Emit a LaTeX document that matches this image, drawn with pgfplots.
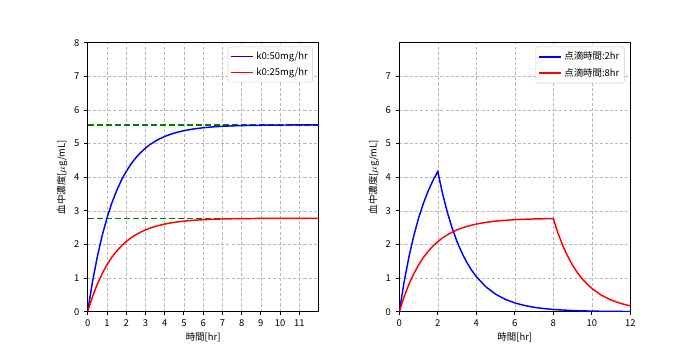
\documentclass[border=0pt]{standalone}
\usepackage{pgfplots}
\pgfplotsset{compat=1.18}
\usepackage{fontspec}
\setmainfont{Noto Sans CJK JP}
\definecolor{mplgreen}{RGB}{0,128,0}
\newcommand{\fs}{\fontsize{6.8pt}{8pt}\selectfont}
\pgfplotsset{mystyle/.style={
  scale only axis, width=166.3pt, height=193.7pt,
  xmin=0, xmax=12, ymin=0, ymax=8,
  grid=major, major grid style={dash pattern=on 2.2pt off 1.5pt, black!28, line width=0.4pt},
  tick align=outside, major tick length=2.5pt,
  xtick pos=lower, ytick pos=left,
  tick style={black, line width=0.55pt},
  axis line style={line width=0.55pt},
  /pgf/number format/assume math mode=true,
  ticklabel style={font=\fs},
  label style={font=\fs},
  xlabel={時間[hr]}, ylabel={血中濃度[$\mu$g/mL]},
  xlabel style={yshift=3pt}, ylabel style={yshift=-2pt},
  legend style={at={(0.975,0.985)}, anchor=north east, draw=black!18, rounded corners=1.5pt,
    font=\fs, inner sep=1.5pt, row sep=0.5pt},
  legend cell align=left,
  legend image code/.code={\draw[#1,mark=none] plot coordinates {(0pt,0pt) (16pt,0pt)};},
}}
\begin{document}
\begin{tikzpicture}
\path[use as bounding box] (0,0) rectangle (504pt,252pt);
\begin{axis}[mystyle, at={(63.1pt,27.6pt)}, anchor=south west,
  xtick={0,1,2,3,4,5,6,7,8,9,10,11}, ytick={0,1,2,3,4,5,6,7,8}]
\addplot[mplgreen, dash pattern=on 4.5pt off 2pt, line width=1.05pt, forget plot] coordinates {(0,5.556) (12,5.556)};
\addplot[mplgreen, dash pattern=on 4.5pt off 2pt, line width=1.05pt, forget plot] coordinates {(0,2.778) (12,2.778)};
\addplot[blue, line width=1.05pt] coordinates {
(0,0) (0.25,0.884) (0.5,1.627) (0.75,2.252) (1,2.778) (1.25,3.220) (1.5,3.591) (1.75,3.904)
(2,4.167) (2.25,4.388) (2.5,4.574) (2.75,4.730) (3,4.861) (3.25,4.972) (3.5,5.065) (3.75,5.143)
(4,5.208) (4.25,5.264) (4.5,5.310) (4.75,5.349) (5,5.382) (5.5,5.433) (6,5.469) (6.5,5.495)
(7,5.513) (7.5,5.525) (8,5.534) (9,5.545) (10,5.550) (11,5.553) (12,5.555)};
\addlegendentry{k0:50mg/hr}
\addplot[red, line width=1.05pt] coordinates {
(0,0) (0.25,0.442) (0.5,0.814) (0.75,1.126) (1,1.389) (1.25,1.610) (1.5,1.796) (1.75,1.952)
(2,2.083) (2.25,2.194) (2.5,2.287) (2.75,2.365) (3,2.431) (3.25,2.486) (3.5,2.533) (3.75,2.572)
(4,2.604) (4.25,2.632) (4.5,2.655) (4.75,2.675) (5,2.691) (5.5,2.717) (6,2.735) (6.5,2.748)
(7,2.757) (7.5,2.763) (8,2.767) (9,2.773) (10,2.775) (11,2.777) (12,2.778)};
\addlegendentry{k0:25mg/hr}
\end{axis}
\begin{axis}[mystyle, at={(287.5pt,27.6pt)}, anchor=south west,
  xtick={0,2,4,6,8,10,12}, ytick={0,1,2,3,4,5,6,7}]
\addplot[blue, line width=1.05pt] coordinates {
(0,0) (0.25,0.884) (0.5,1.627) (0.75,2.252) (1,2.778) (1.25,3.220) (1.5,3.591) (1.75,3.904)
(2,4.167) (2.25,3.504) (2.5,2.946) (2.75,2.478) (3,2.083) (3.25,1.752) (3.5,1.473) (3.75,1.239)
(4,1.042) (4.5,0.737) (5,0.521) (5.5,0.368) (6,0.260) (6.5,0.184) (7,0.130) (7.5,0.092)
(8,0.065) (9,0.033) (10,0.016) (11,0.008) (12,0.004)};
\addlegendentry{点滴時間:2hr}
\addplot[red, line width=1.05pt] coordinates {
(0,0) (0.25,0.442) (0.5,0.814) (0.75,1.126) (1,1.389) (1.25,1.610) (1.5,1.796) (1.75,1.952)
(2,2.083) (2.25,2.194) (2.5,2.287) (2.75,2.365) (3,2.431) (3.25,2.486) (3.5,2.533) (3.75,2.572)
(4,2.604) (4.25,2.632) (4.5,2.655) (4.75,2.675) (5,2.691) (5.5,2.717) (6,2.735) (6.5,2.748)
(7,2.757) (7.5,2.763) (8,2.767) (8.25,2.327) (8.5,1.957) (8.75,1.645) (9,1.384) (9.25,1.163)
(9.5,0.978) (9.75,0.823) (10,0.692) (10.5,0.489) (11,0.346) (11.5,0.245) (12,0.173)};
\addlegendentry{点滴時間:8hr}
\end{axis}
\end{tikzpicture}
\end{document}
